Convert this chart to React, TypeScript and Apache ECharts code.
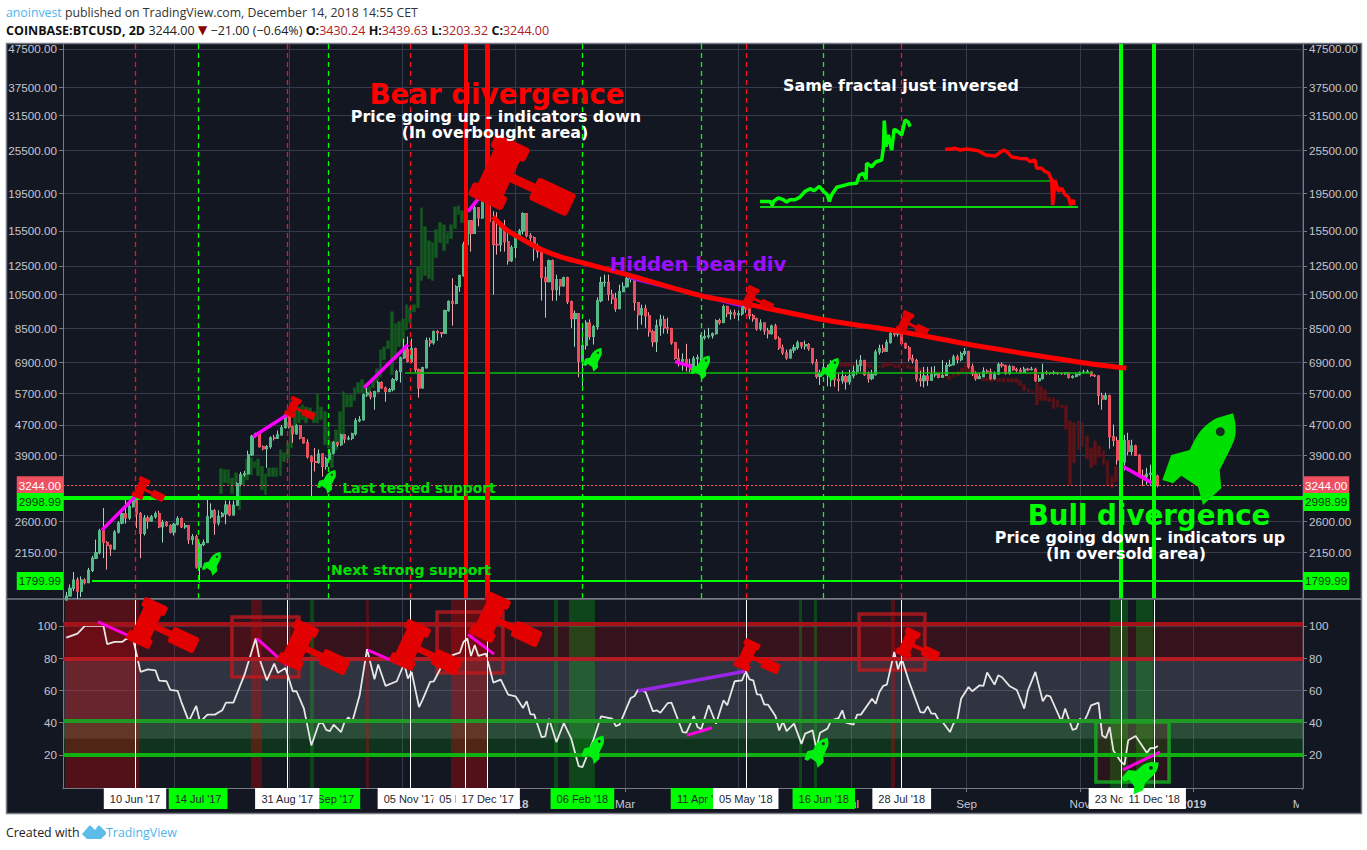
import React, { useEffect, useRef } from "react";
import * as echarts from "echarts";

// ---- prices, one 2D bar each, first bar 04 May 2017, last bar 13 Dec 2018
const closes = [
1640,1720,1810,1690,1810,1780,1920,2070,2140,2450,
2280,2240,2190,2430,2570,2720,2650,2840,3020,2720,
2410,2650,2600,2670,2720,2510,2580,2530,2430,2550,
2640,2510,2530,2320,2360,1960,2250,2280,2670,2770,
2570,2680,2720,2870,2700,2870,3270,3460,3480,3910,
4380,4450,4110,4060,4110,4340,4330,4420,4620,5000,
4650,4450,4680,4340,4210,3860,3750,3730,3930,3640,
3810,3950,4210,4160,4420,4310,4330,4450,4820,4850,
5660,5720,5590,5770,6100,5900,5770,5840,6210,6520,
7100,7470,6950,7510,6600,5900,6680,7890,7790,8340,
8290,8260,9490,10050,9930,11000,11780,14250,16500,15270,
17880,16800,19880,19150,16420,14270,14240,15950,14500,12900,
14000,14880,15500,17250,15050,14870,13900,13650,11640,11350,
12900,10800,11490,11060,11630,10030,9040,9320,6960,7660,
8800,8100,8600,10090,11280,11300,10500,10220,9610,10670,
11000,11560,11600,9980,9260,9610,9200,8340,7840,8650,
8980,8540,8490,7790,7080,6960,7020,6810,6610,7060,
7100,8040,8090,8130,8240,8930,8820,9720,9320,9370,
9260,9310,9790,9610,9200,9030,8490,8800,8390,8240,
8640,8000,7550,7320,7100,7450,7560,7790,7640,7700,
7520,6910,6330,6470,6690,6530,6770,6210,6170,6320,
6130,6360,6530,6780,6990,6400,6250,6400,7360,7520,
7400,7800,8240,8220,8300,7750,7550,7060,6980,6240,
6170,6350,6190,6400,6450,6300,6370,6770,6800,7140,
7020,7290,7380,6720,6430,6250,6320,6540,6510,6250,
6430,6820,6770,6450,6720,6600,6580,6490,6620,6600,
6620,6170,6250,6490,6480,6450,6490,6450,6440,6480,
6300,6340,6400,6480,6500,6510,6370,6350,5630,5510,
5620,4370,4270,3790,3740,4270,3990,4130,3900,3440,
3420,3470,3490,3430,3244];
const highs = [
1680,1760,1900,1840,1850,1830,1950,2100,2320,2480,
2820,2300,2250,2460,2600,2800,2960,2960,3070,3060,
2750,2700,2690,2700,2760,2770,2620,2600,2550,2570,
2680,2660,2570,2540,2400,2390,2280,2320,2980,2900,
2800,2780,2750,2950,2950,2950,3300,3520,3540,4010,
4420,4480,4480,4140,4150,4380,4420,4540,4700,5050,
5030,4680,4720,4700,4360,4300,3900,4080,4040,3950,
3860,4040,4260,4240,4450,4440,4400,4480,4900,4960,
5700,5900,5780,5800,6150,6150,5950,5900,6280,6600,
7150,7990,8090,7990,7560,6650,6720,8040,8040,8400,
8420,8320,9550,10110,11590,11100,11850,14500,19880,16500,
18400,17950,20000,20100,19200,17500,17400,16100,16600,15300,
14200,15100,15700,17400,17300,15300,15000,14340,13900,12420,
13000,13000,11850,11490,11700,11700,10100,9500,9260,8700,
8950,9000,8700,10300,11700,11850,11850,10800,10600,11140,
11300,11850,11780,11600,9980,9850,9850,9400,8440,8980,
9260,9200,9090,8540,7800,7510,7300,7740,7060,7180,
7240,8190,8440,8540,8300,9000,9050,9850,9790,9550,
9550,9500,10000,9900,9610,9300,9090,9000,8800,8540,
8710,8760,8100,7700,7470,7510,7700,7900,7760,7900,
7780,7550,7050,6600,7000,6810,7000,6850,6450,6560,
6400,6600,6760,7020,7220,6990,6530,6600,7470,7700,
7700,7940,8440,8300,8300,8300,7800,7640,7240,7060,
6560,6720,6720,6720,6750,6450,7000,6900,7020,7240,
7240,7380,7550,7420,6850,6530,6450,6700,6620,6650,
6530,6900,6900,6810,6810,6770,6680,6680,6720,6680,
6720,6680,6400,6850,6560,6510,6560,6510,6500,6500,
6480,6380,6480,6530,6600,6600,6510,6420,6380,5730,
5730,5660,4710,4370,4030,4420,4480,4290,4160,3930,
3570,3610,3680,3610,3460];
const lows = [
1600,1640,1690,1610,1630,1760,1780,1900,2060,2120,
2070,1930,2100,2180,2410,2550,2560,2620,2830,2490,
2070,2380,2480,2590,2640,2490,2280,2510,2410,2380,
2530,2490,2480,2260,2250,1940,1780,2230,2270,2640,
2390,2530,2660,2550,2680,2690,2860,3220,3420,3470,
3880,4350,4090,4020,3610,4060,4270,4310,4400,4600,
4600,4210,4430,4300,4190,3820,3020,3530,3700,3420,
3570,3780,3920,4100,4130,4200,4280,4280,4400,4780,
4830,5590,5500,5160,5740,5860,5420,5750,5780,6150,
6100,7050,6900,6880,6500,5560,5880,6650,7600,7700,
7890,8050,8240,9440,8660,9880,10670,11700,14100,13650,
15830,15950,16700,18330,14250,10470,13400,13650,13650,12600,
12800,13150,14690,15170,14900,14250,12900,13150,10100,9090,
11300,10090,10100,10420,11000,9890,8530,7600,6300,5900,
7470,7940,7700,8440,9990,11000,10100,9890,9430,9610,
10750,10950,11300,9490,8440,8710,8540,8090,7600,7360,
8130,8240,8240,7700,7020,6730,6560,6530,6510,6530,
6600,6810,7940,7990,8000,8190,8710,8820,9130,8980,
9030,8930,9200,9370,9000,8870,8390,8390,8190,8000,
8190,7940,7460,7230,7020,7060,7320,7470,7510,7470,
7420,6820,6250,6010,6400,5960,5950,5950,5780,6060,
5840,6020,6260,6400,6530,6360,6100,6190,6380,7240,
7320,7380,7750,8090,8090,7700,7500,6940,6860,6130,
5950,5920,5980,6190,6300,6260,6300,6400,6720,6810,
6860,6950,7200,6650,6350,6170,6230,6320,6430,6210,
6210,6400,6690,6400,6400,6560,6510,6450,6490,6560,
6580,6130,6130,6210,6400,6400,6400,6400,6400,6400,
6250,6250,6300,6380,6470,6470,6320,6310,5320,5160,
5490,4060,4120,3680,3530,3550,3900,3900,3880,3400,
3230,3250,3230,3270,3203];
const firstOpen = 1600;

// ---- dark-green bars pattern (projected copy): tops and bottoms
const ghostUpTop = [3590,3570,3570,3390,3500,3270,3460,3810,3840,3750,3810,3640,3480,3610,3610,3610,4030,3960,4210,4650,5160,5250,5320,5250,5220,5100,5690,5250,5100,4620,4240,4560,5100,5770,5660,5660,5910,6100,6210,6060,5950,6280,6640,7470,7600,7890,9430,8760,8870,9030,9850,9670,9850,12450,17880,15920,14600,14430,15630,16320,16110,15340,16110,17990,18100,17560];
const ghostUpBottom = [3080,3290,3270,3080,3250,2790,3250,3350,3460,3610,3440,3150,3060,3420,3420,3420,3440,3750,3840,4080,4500,4760,4850,4760,4910,4760,4760,4850,4160,4080,3610,4030,4210,4420,5250,5250,5460,5730,5730,5590,5730,5910,6100,6320,7020,7510,6400,7020,7600,7790,8440,8820,9430,9670,11420,11780,11560,11420,13150,14430,13730,14340,14780,15720,17140,16320];

// ---- dark-red bars pattern (projected copy): tops and bottoms
const ghostDownTop = [6900,6900,6900,6850,6850,6940,6900,6850,6730,6770,6850,6900,6900,6810,6810,6810,6810,6730,6730,6680,6600,6600,6600,6520,6480,6400,6360,6480,6520,6680,6850,6730,6600,6480,6280,6280,6250,6280,6250,6280,6250,6250,6250,6170,6020,5880,5800,6100,5950,5840,5560,5560,5490,5320,5290,4820,4760,4820,4760,4400,4080,4260,4130,4010,3770,3420,3640];
const ghostDownBottom = [6730,6730,6730,6770,6730,6810,6730,6680,6640,6680,6680,6730,6770,6680,6680,6730,6640,6640,6600,6520,6480,6480,6400,6400,6320,6320,6210,6320,6360,6480,6520,6480,6440,6250,6170,6170,6130,6170,6130,6100,6130,6130,6100,5980,5800,5730,5730,5320,5460,5460,5420,5190,5250,5220,4560,3250,3720,4030,4110,3810,3610,3680,3860,3680,3230,3190,3310];

// ---- "same fractal" mini lines: days after 10 Jun 2017, price
const fractalUpDays = [336.7,342.1,343.3,343.9,346.5,349.2,351,352.8,355.5,358.2,360.9,363.6,365.8,368.6,370.8,372.9,374,375.3,378,380.7,384.3,388.7,390.2,392.3,393.8,394.1,396.8,399.2,402.2,403.1,403.6,404.5,405.8,407.6,408.9,411.2,413,414.8,416.6,417.5];
const fractalUpPrices = [18590,18590,18140,18590,18990,18790,18530,18790,18790,19090,19780,20110,19860,20410,19780,19380,18590,19380,20280,20440,20690,20790,21870,22110,21300,23510,23020,23740,23990,25780,30560,26040,27980,25510,28980,28550,27980,30680,30250,29450];
const fractalDownDays = [436.3,439,441.7,444.4,448,451.6,454.3,457.9,460.6,463.3,466,467.7,469.5,472.2,476.7,480.3,482.1,484.8,485.7,488.4,490.2,492,493.8,494.3,495.6,497.4,499.2,501,502.8,504,505.5,505.6];
const fractalDownPrices = [25620,25620,25780,25510,25670,25510,25400,24790,24680,24570,25140,25510,25300,24450,24230,24170,23740,23990,22800,22800,22330,22190,21210,18190,21210,19780,20160,19380,19090,18190,18790,18190];

// ---- red falling trend line
const trendDays = [192.8,200,209,218,230.5,241,265,305,329,371,416,450,509,534];
const trendPrices = [16930,15630,14690,13900,13150,12750,11850,10400,9900,8980,8290,7700,6910,6660];

// ---- RSI, vertices only: bar index and value
const rsiBars = [0,3,5,10,11,13,15,16,18,20,22,24,25,27,28,30,31,33,35,36,38,40,42,43,45,48,51,52,54,56,57,59,61,62,64,66,68,69,70,71,72,74,75,76,77,78,79,81,83,84,86,89,91,92,93,95,96,98,99,101,103,104,106,107,108,109,110,111,113,115,117,119,121,123,124,125,126,128,129,130,132,134,136,138,139,142,144,147,148,149,152,153,154,156,158,159,160,162,163,166,167,169,170,171,173,175,177,178,180,182,183,184,185,186,187,188,189,191,192,193,194,196,198,199,201,202,203,205,206,208,209,210,212,213,214,217,218,219,220,221,223,224,225,227,230,231,232,233,234,235,236,238,239,240,241,243,244,246,247,248,250,251,252,254,256,258,259,261,263,264,265,268,269,271,272,273,274,275,276,278,279,280,281,282,284,285,286,288,291,292,293,294];
const rsiValues = [92.7,95.2,100,100,88.6,90,90,91.7,91.7,71.4,73,72.4,66,65.6,60.2,59.6,52.7,40.7,50.3,40.3,44.9,44.9,47.6,52.3,52.3,69.7,92.1,79.7,66.2,76.6,70.8,73.9,59.4,59.4,48.6,25.8,39.3,39.9,35.5,34.7,38.7,34.1,40.7,43.2,40.3,48.6,56.9,85.5,66.8,76,62.7,65.6,76.6,67.3,71.4,49.6,54.4,65.2,65.6,74.5,78.7,81.8,83.4,90,92.1,81.3,88,81.3,82.8,64.8,66.6,57.3,56.3,49,53.2,45.1,45.1,31,31.4,42.4,27.9,39.7,30,13,12.3,29.5,43.8,42.4,37.8,38.7,55.2,56.3,60.4,59,46.9,47.6,46.1,52.1,52.3,34.1,33.7,44,37.2,35.8,50.7,39.3,53.8,50.7,65.6,66.2,71.8,66.8,66.2,57.5,57.3,51.1,51.1,44,35.1,40.7,34.7,39.3,26.8,33.1,35.1,23.7,33.7,36.2,41.3,42.8,47.6,39.9,38.7,44.9,44.9,54.8,51.7,59,62.7,63.5,83.8,73,79.7,65.2,46.5,46.1,50,45.5,45.5,41.3,40.3,34.1,39.7,42,54.8,62,59.4,63.1,62.7,71,63.5,69.3,68.1,62.7,60.2,48.6,60,71.4,53.2,56.9,56.3,40.7,48.6,35.5,36.2,42.4,40.3,44.9,50.7,52.3,32,30.4,37.2,22.7,15.9,13.8,29,31.6,21.2,24.1,24.1,25.4];

// ---- axes
const priceTicks = [2150,2600,3900,4700,5700,6900,8500,10500,12500,15500,19500,25500,31500,37500,47500];
const rsiTicks = [20,40,60,80,100];
const monthTicks = ["2017-07-01","2017-09-01","2017-11-01","2018-01-01","2018-03-01","2018-05-01","2018-07-01","2018-09-01","2018-11-01","2019-01-01","2019-03-01"];
const monthLabelTicks = ["2018-01-01","2018-03-01","2018-07-01","2018-09-01","2018-11-01","2019-01-01","2019-03-01"];
const monthNames = ["","","Mar","","May","","Jul","","Sep","","Nov",""];

// ---- event dates
const greenEvents = [["2017-07-14","14 Jul '17"],["2017-09-22","22 Sep '17"],["2018-02-06","06 Feb '18"],["2018-04-11","11 Apr '18"],["2018-06-16","16 Jun '18"]];
const whiteEvents = [["2017-06-10","10 Jun '17"],["2017-08-31","31 Aug '17"],["2017-11-05","05 Nov '17"],["2017-12-05","05 Dec '17"],["2017-12-17","17 Dec '17"],["2018-05-05","05 May '18"],["2018-07-28","28 Jul '18"],["2018-11-23","23 Nov '18"],["2018-12-11","11 Dec '18"]];
const redDashDates = ["2017-06-10","2017-08-31","2017-11-05","2018-05-05","2018-07-28"];
const thickRedDates = ["2017-12-05","2017-12-17"];
const thickGreenDates = ["2018-11-23","2018-12-11"];

// ---- levels and segments: [day1, value1, day2, value2]
const LAST = 3244, SUPPORT_A = 2998.99, SUPPORT_B = 1799.99;
const magentaPriceSegs = [[-17.8,2460,0,3020],[63.6,4370,81.9,5000],[123.4,5910,147,7700],[179.4,17460,185.8,19150],[290.9,6940,300,6720],[532.2,3640,547.8,3290]];
const purplePriceSeg = [266.6,11630,327,9800];
const magentaRsiSegs = [[-19.9,102.5,1.1,91.5],[65.7,92.1,81.9,75.5],[125.5,84.9,145.4,74.9],[179.4,94.6,193.4,82.4],[297.3,32,310.8,36.8],[532.2,10.7,552.1,21.7]];
const purpleRsiSeg = [270.9,59.6,328.6,71.8];
const redBands = [[-37.7,2.2],[62.5,68.4],[124.4,126],[170.2,190.1],[407.2,409.4]];
const greenBands = [[94.3,96.4],[225.7,227.9],[233.8,247.8],[357.7,359.3],[365.7,367.4],[525.2,534.9],[539.2,548.3]];
const redBoxes = [[52.2,105.4,88.3,68.2],[162.7,108.5,198.2,70.7],[390,107.3,425.5,72.6]];
const greenBox = [517.6,40.3,557,3.1];

// ---- helpers: the x axis counts days after 10 Jun 2017
const BASE = Date.UTC(2017, 5, 10);
const DAY = 86400000;
const T = (d: number) => d;
const D = (s: string) => (Date.parse(s) - BASE) / DAY;
const barT = (i: number) => -37 + 2 * i;
const opens = closes.map((c, i) => (i === 0 ? firstOpen : closes[i - 1]));

const axisFont = '"Liberation Sans", Arial, sans-serif';
const boldFont = '"DejaVu Sans", Verdana, sans-serif';
const headFont = '"Open Sans", "Noto Sans", sans-serif';
const BG = "#131722", GRID = "#363a4a", AXIS = "#787b86", TXT = "#c3c6ce";
const CLEAR = "rgba(0,0,0,0)";

echarts.graphic.registerShape("gavel", echarts.graphic.extendPath(
  "M-15 -20 L15 -20 L15 -5 L40 -5 L40 -9 Q40 -13 44 -13 L80 -13 Q84 -13 84 -9 L84 9 Q84 13 80 13 L44 13 Q40 13 40 9 L40 5 L15 5 L15 20 L-15 20 Z " +
  "M-16 -36 L16 -36 Q20 -36 20 -32 L20 -24 Q20 -20 16 -20 L-16 -20 Q-20 -20 -20 -24 L-20 -32 Q-20 -36 -16 -36 Z " +
  "M-16 20 L16 20 Q20 20 20 24 L20 32 Q20 36 16 36 L-16 36 Q-20 36 -20 32 L-20 24 Q-20 20 -16 20 Z", {}));
echarts.graphic.registerShape("rocket", echarts.graphic.extendPath(
  "M20 -46.7 Q23 -38 22.7 -26.7 Q22 -20 18.3 -13.3 L6.7 10 L8.3 28.3 L-10 45 L-15 26.7 L-31.7 15.7 L-40 23.3 L-50.7 20 L-41.7 -5 L-23.3 -10 Q-18 -22 -11.7 -30 Q-4 -38 3.3 -41.7 Z", {}));
echarts.graphic.registerShape("tvlogo", echarts.graphic.extendPath(
  "M0 9 L7 1 Q8 0 9 1 L13 5 L16 1 Q17 0 18 1 L24 7 L24 9 L19 14 L5 14 Z", {}));

const gavels = [
  [499,172,.95],[141,488,.3],[293,407,.28],[750,297,.3],[905,322,.3],
  [147,623,.65],[298,645,.65],[410,645,.65],[490,617,.65],[747,655,.42],[908,643,.4],
];
const rockets = [
  [1213,460,1,0],[215,564,.26,0],[330,482,.26,0],[596,360,.26,0],[704,368,.27,0],[833,370,.26,0],
  [597,750,.31,0],[821,753,.33,0],[1144,778,.42,-.35],
];
const labels = [
  ["Bear divergence",497,94,27.7,"#ff0000"],
  ["Price going up - indicators down",496,116,15.9,"#ffffff"],
  ["(In overbought area)",495,132,15.9,"#ffffff"],
  ["Same fractal just inversed",901,85,15.9,"#ffffff"],
  ["Hidden bear div",698,264,19.7,"#9c10ff"],
  ["Last tested support",419,488,13.8,"#00e000"],
  ["Next strong support",411,570,14,"#00e000"],
  ["Bull divergence",1149,515,27.7,"#00ff00"],
  ["Price going down - indicators up",1140,537,15.9,"#ffffff"],
  ["(In oversold area)",1126,553,15.9,"#ffffff"],
];

function seg(s: number[], color: string, width: number) {
  return [
    { coord: [T(s[0]), s[1]], lineStyle: { color, width, type: "solid", opacity: 1 } },
    { coord: [T(s[2]), s[3]] },
  ];
}
function vline(date: string, color: string, width: number, type: any) {
  return { xAxis: D(date), lineStyle: { color, width, type, opacity: 1 } };
}
function priceLabel(value: number, text: string, color: string, bg: string, side: string, dy: number) {
  return {
    yAxis: value,
    lineStyle: { color: CLEAR, width: 0, opacity: 1 },
    label: {
      show: true, position: side, distance: 0, formatter: text, color, backgroundColor: bg,
      padding: [3, 2, 3, 2], fontSize: 11.7, fontFamily: axisFont, offset: [0, dy],
    },
  };
}
function dateLabel(ev: string[], bg: string, line: boolean) {
  return {
    xAxis: D(ev[0]),
    lineStyle: line ? { color: "#ffffff", width: 1, type: "solid", opacity: 1 } : { color: CLEAR, width: 0, opacity: 1 },
    label: {
      show: true, position: "start", distance: 0, formatter: ev[1], color: "#23262f", backgroundColor: bg,
      padding: [5, 6, 5, 6], fontSize: 11, fontFamily: axisFont,
    },
  };
}

function buildOption() {
  const monthVals = monthTicks.map(D);
  const monthLabelVals = monthLabelTicks.map(D);
  const logAxis = (position: string) => ({
    type: "log", logBase: 10, gridIndex: 0, position, min: 1620, max: 48984,
    axisLine: { show: true, onZero: false, lineStyle: { color: AXIS } },
    axisTick: { show: true, length: 4, customValues: priceTicks, lineStyle: { color: AXIS } },
    axisLabel: { customValues: priceTicks, formatter: (v: number) => Number(v).toFixed(2), color: TXT, fontSize: 11.7, fontFamily: axisFont, margin: 6, showMinLabel: true, showMaxLabel: true },
    splitLine: { show: position === "left", lineStyle: { color: GRID, width: 1 } },
  });
  const rsiAxis = (position: string) => ({
    type: "value", gridIndex: 1, position, min: -0.6, max: 116,
    axisLine: { show: true, onZero: false, lineStyle: { color: AXIS } },
    axisTick: { show: true, length: 4, customValues: rsiTicks, lineStyle: { color: AXIS } },
    axisLabel: { customValues: rsiTicks, color: TXT, fontSize: 11.7, fontFamily: axisFont, margin: 6 },
    splitLine: { show: position === "left", lineStyle: { color: GRID, width: 1 } },
  });
  const timeAxis = (gridIndex: number) => ({
    type: "value", gridIndex, min: T(-38.78), max: T(629.15),
    axisLine: { show: true, onZero: false, lineStyle: { color: AXIS } },
    axisTick: { show: gridIndex === 1, length: 4, customValues: monthVals, lineStyle: { color: AXIS } },
    axisLabel: {
      show: gridIndex === 1, customValues: monthLabelVals, color: TXT, fontSize: 11.7, fontFamily: axisFont, margin: 9, hideOverlap: false,
      rich: { b: { color: TXT, fontSize: 11.7, fontFamily: axisFont, fontWeight: "bold" } },
      formatter: (v: number) => { const d = new Date(BASE + v * DAY); return d.getUTCMonth() === 0 ? `{b|${d.getUTCFullYear()}}` : monthNames[d.getUTCMonth()]; },
    },
    splitLine: { show: true, lineStyle: { color: GRID, width: 1 } },
  });

  const barData = closes.map((c, i) => [barT(i), opens[i], c, lows[i], highs[i]]);
  const bodyData = closes.map((c, i) => [barT(i), opens[i], c, Math.min(opens[i], c), Math.max(opens[i], c)]);
  const ghostUp = ghostUpTop.map((t, i) => [T(46.3 + 2 * i), ghostUpBottom[i], t, ghostUpBottom[i], t]);
  const ghostDown = ghostDownTop.map((t, i) => [T(380.3 + 2.244 * i), t, ghostDownBottom[i], ghostDownBottom[i], t]);

  const dash = [5, 4];
  const priceLines: any[] = [
    ...greenEvents.map((e) => vline(e[0], "#00ff00", 1.3, dash)),
    ...redDashDates.map((d) => vline(d, "#ff0a1e", 1.3, dash)),
    { yAxis: LAST, lineStyle: { color: "#ff5a6a", width: 1, type: [2, 2], opacity: 1 } },
    { yAxis: SUPPORT_A, lineStyle: { color: "#00ff00", width: 4, type: "solid", opacity: 1 } },
    seg([-23.2, SUPPORT_B, 629.15, SUPPORT_B], "#00ff00", 2),
    seg([145.4, 6470, 516, 6470], "#0bbf0b", 1.5),
    seg([336.7, 17960, 508, 17960], "#11d411", 2),
    seg([390.2, 21120, 493.5, 21120], "#0a8a0a", 2),
    ...magentaPriceSegs.map((s) => seg(s, "#ff00ff", 3.5)),
    seg(purplePriceSeg, "#9c10ff", 4),
    ...thickRedDates.map((d, i) => vline(d, "#ff0000", i === 0 ? 4 : 5, "solid")),
    ...thickGreenDates.map((d) => vline(d, "#00ff00", 4, "solid")),
    priceLabel(LAST, "3244.00", "#ffffff", "#ee5061", "start", 0),
    priceLabel(LAST, "3244.00", "#ffffff", "#ee5061", "end", 0),
    priceLabel(SUPPORT_A, "2998.99", "#10320f", "#00ff00", "start", 4),
    priceLabel(SUPPORT_A, "2998.99", "#10320f", "#00ff00", "end", 4),
    priceLabel(SUPPORT_B, "1799.99", "#10320f", "#00ff00", "start", 0),
    priceLabel(SUPPORT_B, "1799.99", "#10320f", "#00ff00", "end", 0),
  ];

  const rsiLines: any[] = [
    { yAxis: 101, lineStyle: { color: "#a51218", width: 4, type: "solid", opacity: 1 } },
    { yAxis: 79.7, lineStyle: { color: "#b21c22", width: 4, type: "solid", opacity: 1 } },
    { yAxis: 41.3, lineStyle: { color: "#1f9a22", width: 4, type: "solid", opacity: 1 } },
    { yAxis: 20, lineStyle: { color: "#10b010", width: 4, type: "solid", opacity: 1 } },
    ...magentaRsiSegs.map((s) => seg(s, "#ff00e0", 3)),
    seg(purpleRsiSeg, "#9b25e8", 3.5),
    ...greenEvents.map((e) => dateLabel(e, "#00ff00", false)),
    ...whiteEvents.map((e) => dateLabel(e, "#ffffff", true)),
  ];

  const rsiAreas: any[] = [
    [{ yAxis: 101, itemStyle: { color: "rgba(255,0,0,0.14)" } }, { yAxis: 79.7 }],
    [{ yAxis: 79.7, itemStyle: { color: "rgba(130,133,146,0.27)" } }, { yAxis: 30 }],
    [{ yAxis: 41.3, itemStyle: { color: "rgba(0,255,0,0.12)" } }, { yAxis: 20 }],
    ...redBands.map((b) => [{ xAxis: T(b[0]), itemStyle: { color: "rgba(255,0,0,0.27)" } }, { xAxis: T(b[1]) }]),
    ...greenBands.map((b) => [{ xAxis: T(b[0]), itemStyle: { color: "rgba(0,255,0,0.2)" } }, { xAxis: T(b[1]) }]),
    ...redBoxes.map((b) => [
      { coord: [T(b[0]), b[1]], itemStyle: { color: "rgba(255,0,0,0.1)", borderColor: "rgba(190,25,30,0.8)", borderWidth: 3.5 } },
      { coord: [T(b[2]), b[3]] },
    ]),
    [
      { coord: [T(greenBox[0]), greenBox[1]], itemStyle: { color: "rgba(255,0,0,0.1)", borderColor: "rgba(20,170,30,0.85)", borderWidth: 3.5 } },
      { coord: [T(greenBox[2]), greenBox[3]] },
    ],
  ];

  const ghostStyle = (c: string) => ({ color: c, color0: c, borderColor: c, borderColor0: c, borderWidth: 0.5 });

  const texts: any[] = labels.map((l: any) => ({
    type: "text", x: l[1], y: l[2], z: 30, silent: true,
    style: { text: l[0], fill: l[4], font: `bold ${l[3]}px ${boldFont}`, textAlign: "center", textVerticalAlign: "middle", verticalAlign: "middle" },
  }));
  const gavelEls: any[] = gavels.map((g) => ({
    type: "gavel", x: g[0], y: g[1], scaleX: g[2], scaleY: g[2], rotation: (-25 * Math.PI) / 180, z: 25, silent: true,
    style: { fill: "#e30000" },
  }));
  const rocketEls: any[] = rockets.flatMap((r) => {
    const dx = 7.3 * r[2], dy = -28.3 * r[2];
    const c = Math.cos(-r[3]), s = Math.sin(-r[3]);
    return [
      { type: "rocket", x: r[0], y: r[1], scaleX: r[2], scaleY: r[2], rotation: r[3], z: 26, silent: true, style: { fill: r[2] === 1 ? "#00e000" : "#00ee10" } },
      { type: "circle", shape: { cx: r[0] + dx * c - dy * s, cy: r[1] + dx * s + dy * c, r: Math.max(1, 4.5 * r[2]) }, z: 27, silent: true, style: { fill: "#12301c" } },
    ];
  });

  return {
    animation: false,
    backgroundColor: "#ffffff",
    textStyle: { fontFamily: axisFont },
    grid: [
      { left: 63, top: 44, width: 1240, height: 554 },
      { left: 63, top: 600, width: 1240, height: 188 },
    ],
    xAxis: [timeAxis(0), timeAxis(1)],
    yAxis: [logAxis("left"), logAxis("right"), rsiAxis("left"), rsiAxis("right")],
    series: [
      { type: "candlestick", name: "pattern up", xAxisIndex: 0, yAxisIndex: 0, data: ghostUp, barWidth: 3.2, z: 1, itemStyle: ghostStyle("#14591f"), silent: true },
      { type: "candlestick", name: "pattern down", xAxisIndex: 0, yAxisIndex: 0, data: ghostDown, barWidth: 3.2, z: 1, itemStyle: ghostStyle("#5c1216"), silent: true },
      {
        type: "candlestick", name: "wicks", xAxisIndex: 0, yAxisIndex: 0, data: barData, barWidth: 2.6, z: 2, silent: true,
        itemStyle: { color: "#a3d6c1", color0: "#f4a6ad", borderColor: "#a3d6c1", borderColor0: "#f4a6ad", borderWidth: 1 },
        markLine: { silent: true, symbol: ["none", "none"], animation: false, label: { show: false }, data: priceLines },
      },
      {
        type: "candlestick", name: "BTCUSD", xAxisIndex: 0, yAxisIndex: 0, data: bodyData, barWidth: 2.6, z: 3, silent: true,
        itemStyle: { color: "#53b987", color0: "#eb4d5c", borderColor: "#53b987", borderColor0: "#eb4d5c", borderWidth: 1 },
      },
      {
        type: "line", name: "trend", xAxisIndex: 0, yAxisIndex: 0, data: trendDays.map((d, i) => [T(d), trendPrices[i]]),
        smooth: 0.25, showSymbol: false, symbol: "none", lineStyle: { color: "#ff0000", width: 5 }, z: 7, silent: true,
      },
      {
        type: "line", name: "fractal up", xAxisIndex: 0, yAxisIndex: 0, data: fractalUpDays.map((d, i) => [T(d), fractalUpPrices[i]]),
        showSymbol: false, symbol: "none", lineStyle: { color: "#00ff00", width: 3.5 }, z: 7, silent: true,
      },
      {
        type: "line", name: "fractal down", xAxisIndex: 0, yAxisIndex: 0, data: fractalDownDays.map((d, i) => [T(d), fractalDownPrices[i]]),
        showSymbol: false, symbol: "none", lineStyle: { color: "#ff0000", width: 3.5 }, z: 7, silent: true,
      },
      {
        type: "line", name: "RSI", xAxisIndex: 1, yAxisIndex: 2, data: rsiBars.map((b, i) => [barT(b), rsiValues[i]]),
        showSymbol: false, symbol: "none", lineStyle: { color: "#e6e6e6", width: 1.8 }, z: 4, silent: true,
        markArea: { silent: true, animation: false, data: rsiAreas },
        markLine: { silent: true, symbol: ["none", "none"], animation: false, label: { show: false }, data: rsiLines },
      },
    ],
    graphic: [
      { type: "rect", z: -10, silent: true, shape: { x: 6.5, y: 43.5, width: 1355, height: 770 }, style: { fill: BG, stroke: AXIS, lineWidth: 1.5 } },
      { type: "line", z: 1, silent: true, shape: { x1: 7, y1: 599, x2: 1361, y2: 599 }, style: { stroke: AXIS, lineWidth: 1.5 } },
      { type: "rect", z: 40, silent: true, shape: { x: 1299, y: 790, width: 61, height: 22 }, style: { fill: BG } },
      {
        type: "text", x: 6, y: 12, z: 30, silent: true,
        style: {
          text: "{a|anoinvest}{b| published on TradingView.com, December 14, 2018 14:55 CET}",
          verticalAlign: "middle", textVerticalAlign: "middle",
          rich: {
            a: { fill: "#4db4ec", font: `12.3px ${headFont}` },
            b: { fill: "#333333", font: `12.3px ${headFont}` },
          },
        },
      },
      {
        type: "text", x: 6, y: 30, z: 30, silent: true,
        style: {
          text: "{k|COINBASE:BTCUSD, 2D} {v|3244.00} {t|▼} {v|−21.00 (−0.64%)} {k|O:}{r|3430.24} {k|H:}{r|3439.63} {k|L:}{r|3203.32} {k|C:}{r|3244.00}",
          verticalAlign: "middle", textVerticalAlign: "middle",
          rich: {
            k: { fill: "#111111", font: `bold 12.5px ${headFont}` },
            v: { fill: "#222222", font: `12.5px ${headFont}` },
            t: { fill: "#8b0000", font: `12px "DejaVu Sans"` },
            r: { fill: "#b01c24", font: `12.5px ${headFont}` },
          },
        },
      },
      { type: "text", x: 6, y: 832, z: 30, silent: true, style: { text: "Created with", fill: "#222222", font: `12.4px ${headFont}`, verticalAlign: "middle", textVerticalAlign: "middle" } },
      { type: "tvlogo", x: 82, y: 825, z: 30, silent: true, style: { fill: "#5bbde8" } },
      { type: "text", x: 106, y: 832, z: 30, silent: true, style: { text: "TradingView", fill: "#4db4ec", font: `12.4px ${headFont}`, verticalAlign: "middle", textVerticalAlign: "middle" } },
      ...gavelEls,
      ...rocketEls,
      ...texts,
    ],
  };
}

export default function App() {
  const ref = useRef<HTMLDivElement>(null);
  useEffect(() => {
    const chart = echarts.init(ref.current as HTMLDivElement, undefined, { renderer: "svg" });
    chart.setOption(buildOption() as any);
    return () => chart.dispose();
  }, []);
  return <div ref={ref} style={{ position: "absolute", left: 0, top: 0, width: 1367, height: 850 }} />;
}
